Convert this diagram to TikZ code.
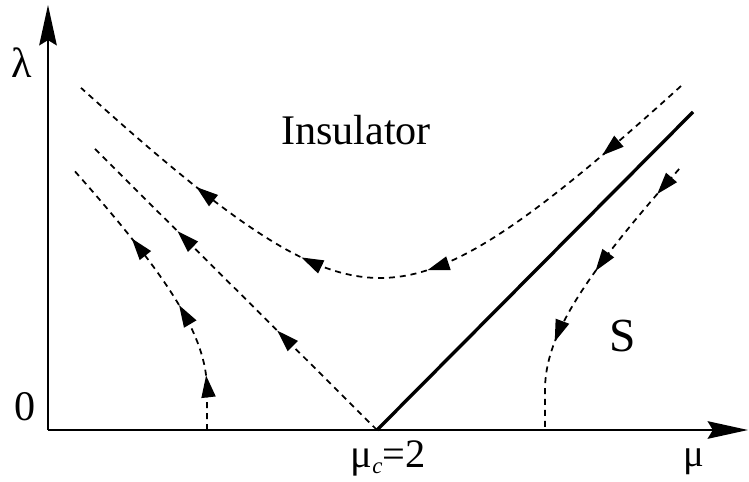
\documentclass[tikz,border=0pt]{standalone}
\usepackage{fontspec}
\setmainfont{Liberation Serif}
\usetikzlibrary{arrows.meta,positioning,decorations.markings}

\begin{document}
\begin{tikzpicture}[x=0.02cm, y=-0.02cm,
    axis/.style={line width=1.1pt, -{Stealth[length=23pt, width=10pt, inset=3pt]}},
    flow/.style={dash pattern=on 3.4pt off 2.8pt, line width=1pt},
    sep/.style={line width=1.9pt},
    flowtip/.style={postaction={decorate, decoration={markings,
        mark=at position #1 with {\arrow{Triangle[length=12.5pt, width=8pt]}}}}},
    lbl/.style={inner sep=0pt, font=\fontsize{22}{24}\selectfont}
  ]
  \useasboundingbox (0,0) rectangle (749,482);

  \coordinate (orig)  at (48,430);
  \coordinate (ytop)  at (48,5);
  \coordinate (xend)  at (748,430);
  \coordinate (crit)  at (377,430);
  \coordinate (sepend) at (693,112);
  \coordinate (vend)  at (92,146);
  \coordinate (lfoot) at (207,430);
  \coordinate (rfoot) at (545,430);

  \node[lbl, font=\fontsize{24}{26}\selectfont] (lam) at (22,63) {λ};
  \node[lbl, font=\fontsize{24}{26}\selectfont] (zero) at (25,407) {0};
  \node[lbl] (mu)   at (694,462) {μ};
  \node[lbl, font=\fontsize{23}{25}\selectfont] (muc) at (388,458)
    {μ\raisebox{-0.35ex}{\fontsize{13}{13}\selectfont\itshape c}=2};
  \node[lbl, font=\fontsize{24}{26}\selectfont] (ins) at (356,130) {Insulator};
  \node[lbl, font=\fontsize{27}{29}\selectfont] (sreg) at (623,336) {S};

  \draw[axis] (orig) -- (ytop);
  \draw[axis] (orig) -- (xend);
  \draw[sep] (crit) -- (sepend);

  \draw[flow, flowtip=0.35, flowtip=0.70] (crit) -- (vend);
  \draw[flow, flowtip=0.145, flowtip=0.435, flowtip=0.615, flowtip=0.79]
    plot[domain=0:60, samples=121]
      ({681-10*\x}, {418-10*sqrt(196+(30.1-\x)*(30.1-\x))});
  \draw[flow, flowtip=0.18, flowtip=0.43, flowtip=0.70]
    (lfoot) -- plot[domain=0:22.1, samples=60]
      ({322-10*sqrt(132.25+\x*\x)}, {390-10*\x});
  \draw[flow, flowtip=0.11, flowtip=0.435, flowtip=0.705]
    plot[domain=0:22.1, samples=60]
      ({430+10*sqrt(132.25+(22.1-\x)*(22.1-\x))}, {169+10*\x}) -- (rfoot);
\end{tikzpicture}
\end{document}
